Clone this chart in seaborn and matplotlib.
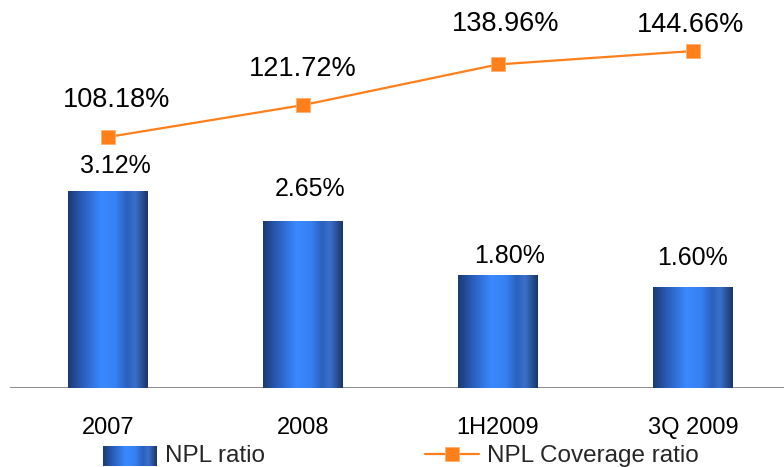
import numpy as np
import pandas as pd
import matplotlib
matplotlib.use("Agg")
import matplotlib.pyplot as plt
from matplotlib.colors import LinearSegmentedColormap
from matplotlib.patches import Patch
from matplotlib.lines import Line2D
import seaborn as sns

# --- data -------------------------------------------------------------
periods = ["2007", "2008", "1H2009", "3Q 2009"]
npl_ratio = [3.12, 2.65, 1.80, 1.60]                 # %
coverage_ratio = [108.18, 121.72, 138.96, 144.66]    # %

# --- style ------------------------------------------------------------
sns.set_theme(style="white")
plt.rcParams["font.family"] = ["Liberation Sans", "DejaVu Sans"]

W, H, DPI = 784, 467, 100
fig = plt.figure(figsize=(W / DPI, H / DPI), dpi=DPI)
ax = fig.add_axes([10 / W, 79 / H, 774 / W, 388 / H])

df = pd.DataFrame({"period": periods, "npl": npl_ratio, "coverage": coverage_ratio})

sns.barplot(data=df, x="period", y="npl", ax=ax, width=0.41,
            color="#2f6fd8", edgecolor="none", zorder=3)

# cylindrical shading for the bars
bar_cmap = LinearSegmentedColormap.from_list("cyl", [
    (0.00, "#1b3a70"), (0.15, "#2857b0"), (0.42, "#3a89ff"),
    (0.60, "#3681f2"), (0.74, "#2b60bd"), (0.84, "#3a70cc"),
    (1.00, "#1a3668")])
grad = np.linspace(0, 1, 256).reshape(1, -1)
for p in ax.patches:
    x0, y0 = p.get_x(), p.get_y()
    w, h = p.get_width(), p.get_height()
    im = ax.imshow(grad, cmap=bar_cmap, aspect="auto",
                   extent=(x0, x0 + w, y0 - 0.02, y0 + h), zorder=4)
    im.set_clip_path(p)
    p.set_y(y0 - 0.02)
    p.set_height(h + 0.02)

ax.set_xlim(-0.503, 3.467)
ax.set_ylim(0, 388 / 63.0)

# baseline
ax.axhline(0, color="#808080", lw=2, zorder=2)

# coverage ratio line on a secondary axis
ax2 = ax.twinx()
orange = "#ff7f1a"
sns.lineplot(x=np.arange(len(periods)), y=coverage_ratio, ax=ax2,
             color=orange, lw=1.6, marker="s", markersize=9.5,
             markeredgecolor="#ffb070", markeredgewidth=0.6, zorder=5)
ax2.set_ylim(1.7, 166.3)
ax2.set_xlim(-0.503, 3.467)

for a in (ax, ax2):
    for s in a.spines.values():
        s.set_visible(False)
    a.set_yticks([])
    a.set_ylabel("")
    a.set_xlabel("")
    a.grid(False)

ax.tick_params(axis="x", length=0, pad=21, labelsize=17, labelcolor="black")

# value labels
px = 72 / DPI
bar_dx = [7, 7, 12, 0]
bar_dy = [25, 32, 19, 29]
for i, v in enumerate(npl_ratio):
    ax.annotate(f"{v:.2f}%", (i, v), xytext=(bar_dx[i] * px, bar_dy[i] * px),
                textcoords="offset points", ha="center", va="center",
                fontsize=18, color="black", zorder=6)

line_dx = [8, 0, 8, -2]
line_dy = [37, 36, 40, 26]
for i, v in enumerate(coverage_ratio):
    ax2.annotate(f"{v:.2f}%", (i, v), xytext=(line_dx[i] * px, line_dy[i] * px),
                 textcoords="offset points", ha="center", va="center",
                 fontsize=19.5, color="black", zorder=6)

# legend
handles = [Patch(facecolor="none", edgecolor="none", label="NPL ratio"),
           Line2D([0], [0], color=orange, lw=1.6, marker="s", markersize=9.5,
                  markeredgecolor="#ffb070", markeredgewidth=0.6,
                  label="NPL Coverage ratio")]
leg = fig.legend(handles=handles, loc="center left",
                 bbox_to_anchor=(103 / W, 11 / H), ncol=2, frameon=False,
                 fontsize=17.5, borderpad=0, borderaxespad=0,
                 handlelength=2.2, handleheight=0.8, handletextpad=0.35,
                 columnspacing=6.6)

# gradient swatch drawn over the (transparent) bar legend handle
fig.canvas.draw()
renderer = fig.canvas.get_renderer()
bb = leg.legend_handles[0].get_window_extent(renderer)
lax = fig.add_axes([bb.x0 / W, (bb.y0 - 3) / H, bb.width / W, (bb.height + 2) / H])
lax.imshow(grad, cmap=bar_cmap, aspect="auto", extent=(0, 1, 0, 1))
lax.set_xlim(0, 1)
lax.set_ylim(0, 1)
lax.set_axis_off()

fig.savefig("out.png", dpi=DPI)
